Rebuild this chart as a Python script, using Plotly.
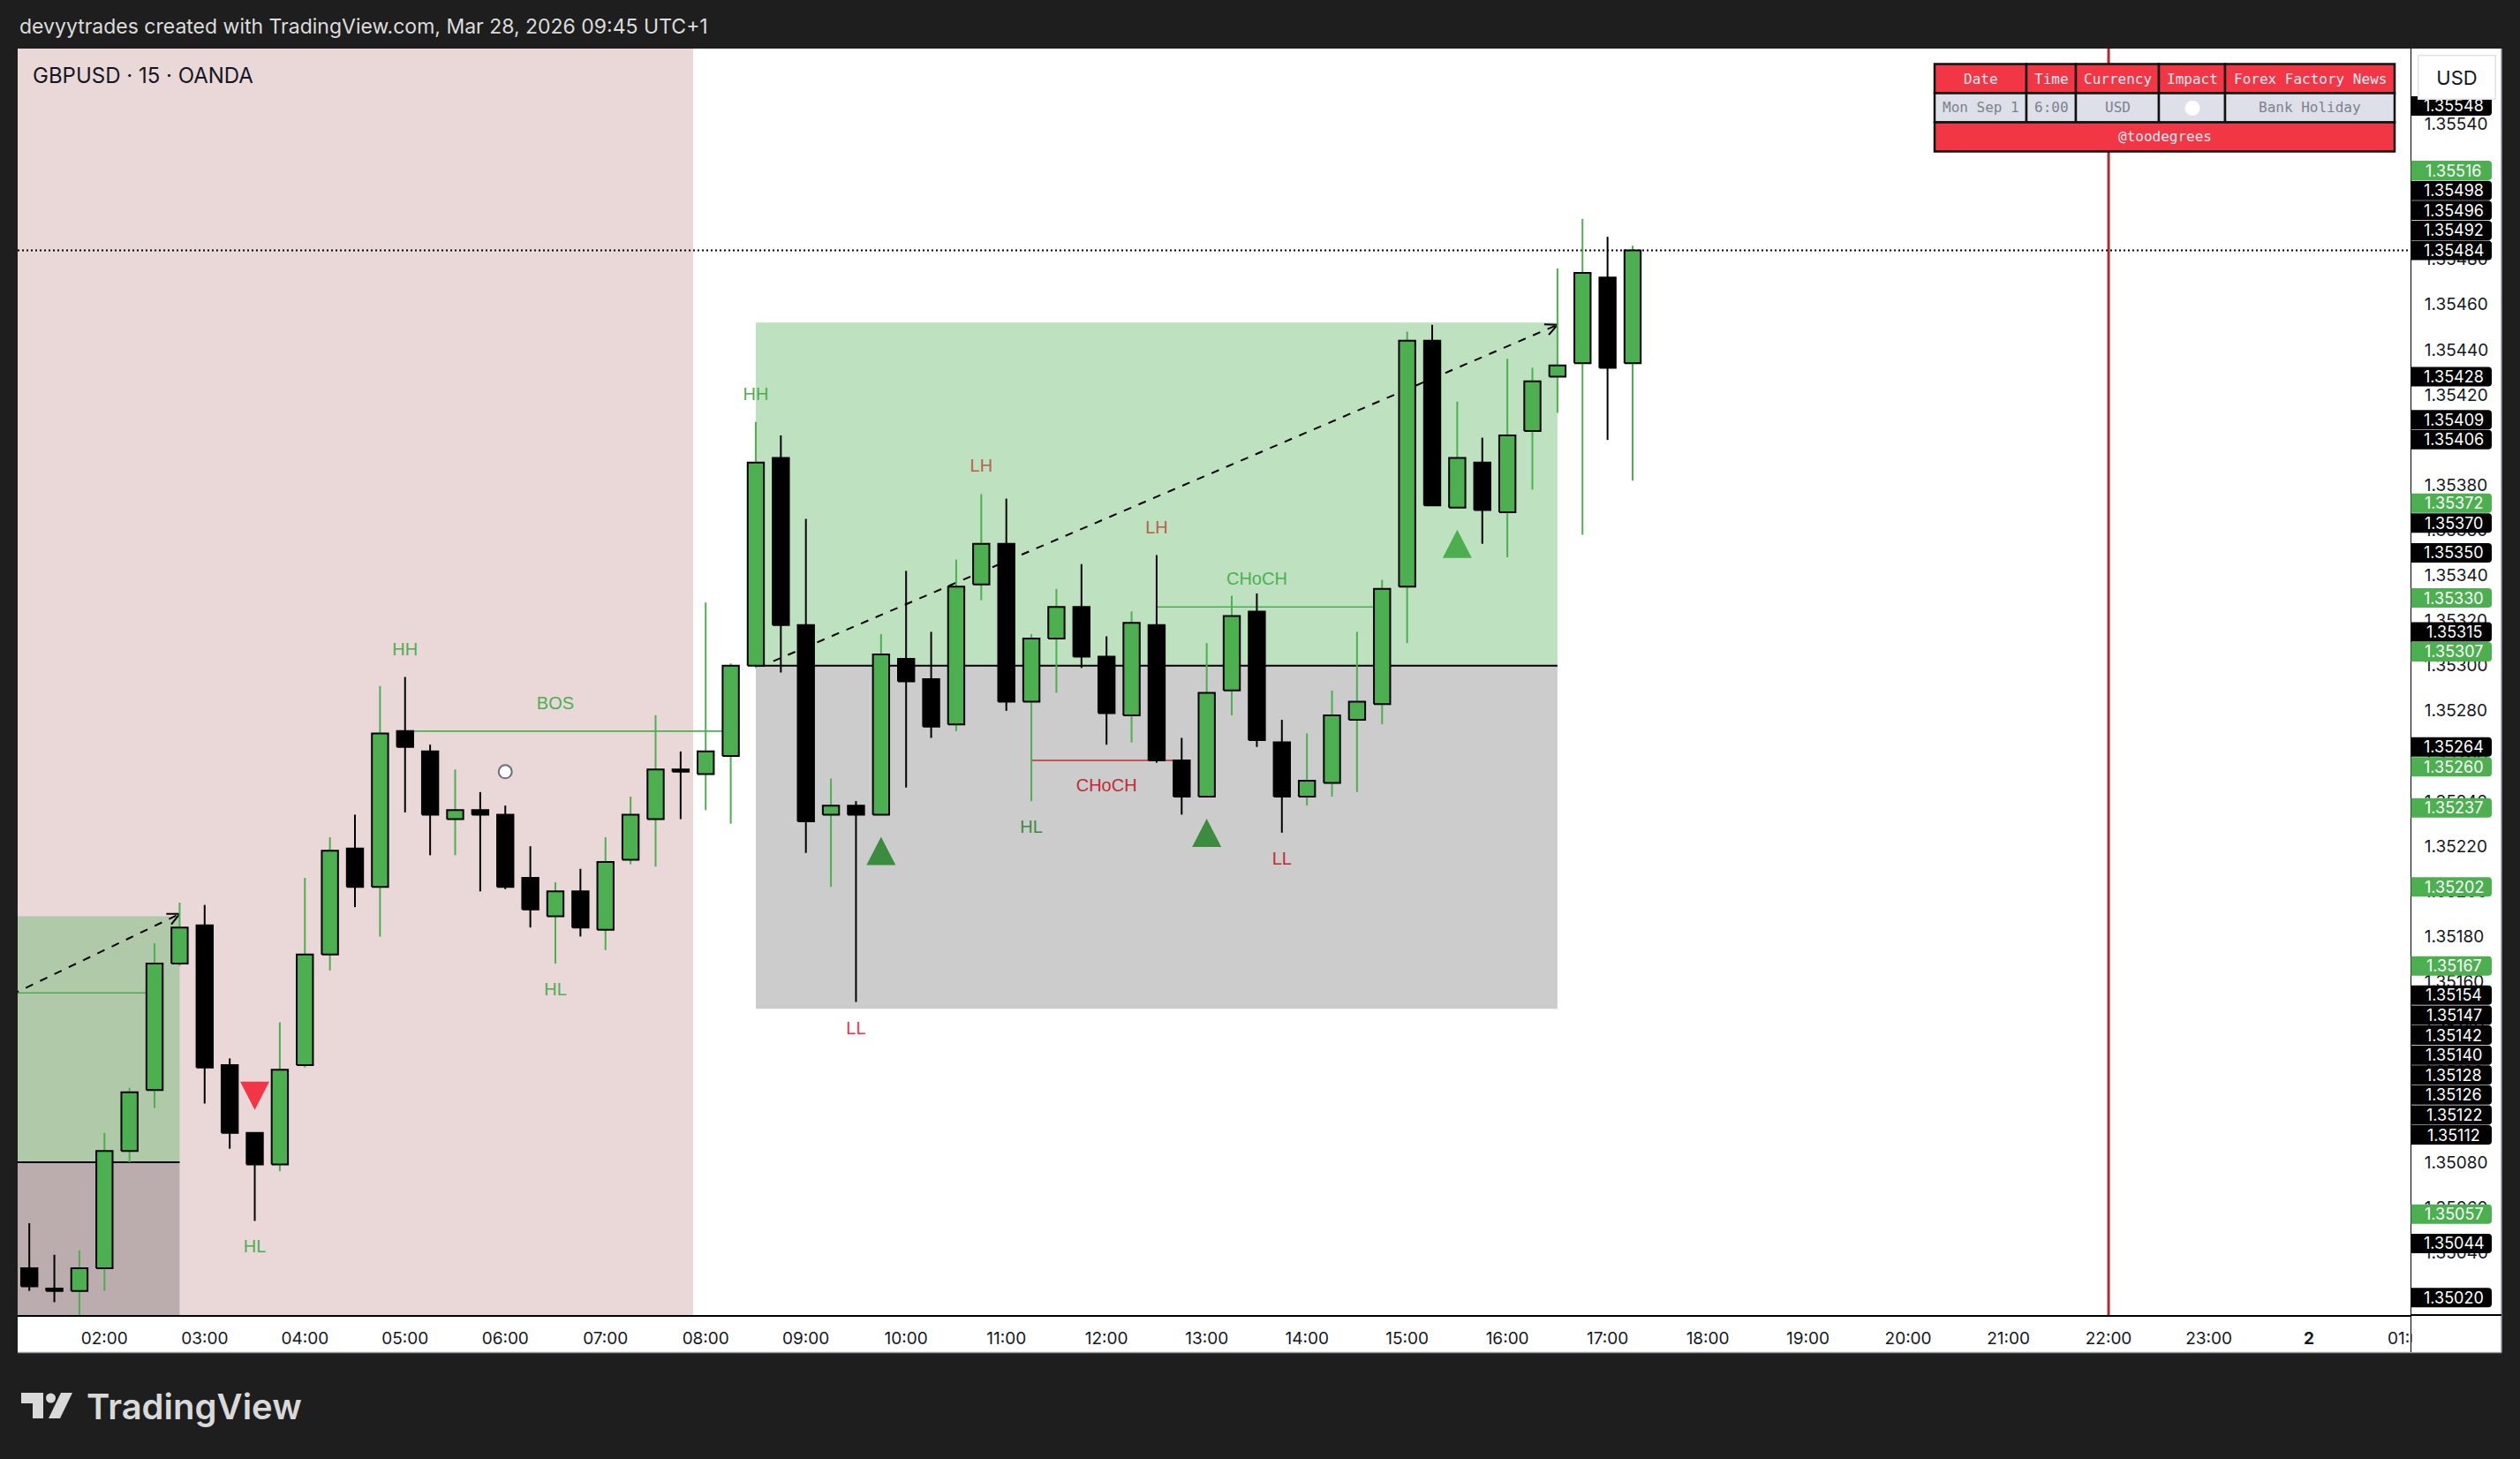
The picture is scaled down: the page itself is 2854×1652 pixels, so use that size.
import math
import pandas as pd
import plotly.graph_objects as go

# ---------------- data ----------------
FIRST_BAR = "2025-09-01 01:15"
BAR_MINUTES = 15

opens = [1.35033, 1.35024, 1.35023, 1.35033, 1.35085, 1.35112, 1.35168, 1.35185, 1.35123, 1.35093,
         1.35079, 1.35123, 1.35172, 1.35219, 1.35202, 1.35271, 1.35262, 1.35232, 1.35236, 1.35234,
         1.35206, 1.35189, 1.35200, 1.35183, 1.35214, 1.35232, 1.35254, 1.35252, 1.35260, 1.35300,
         1.35392, 1.35318, 1.35234, 1.35238, 1.35234, 1.35303, 1.35294, 1.35274, 1.35336, 1.35354,
         1.35284, 1.35312, 1.35326, 1.35304, 1.35278, 1.35318, 1.35258, 1.35242, 1.35289, 1.35324,
         1.35266, 1.35242, 1.35248, 1.35276, 1.35283, 1.35335, 1.35444, 1.35370, 1.35390, 1.35368,
         1.35404, 1.35428, 1.35434, 1.35472, 1.35434]
highs = [1.35053, 1.35039, 1.35041, 1.35093, 1.35113, 1.35177, 1.35195, 1.35194, 1.35126, 1.35093,
         1.35142, 1.35206, 1.35224, 1.35234, 1.35291, 1.35295, 1.35265, 1.35254, 1.35244, 1.35238,
         1.35220, 1.35204, 1.35210, 1.35224, 1.35242, 1.35278, 1.35262, 1.35328, 1.35301, 1.35408,
         1.35402, 1.35365, 1.35250, 1.35240, 1.35314, 1.35342, 1.35315, 1.35347, 1.35376, 1.35374,
         1.35314, 1.35334, 1.35345, 1.35313, 1.35324, 1.35349, 1.35268, 1.35310, 1.35331, 1.35332,
         1.35276, 1.35270, 1.35289, 1.35315, 1.35338, 1.35448, 1.35451, 1.35417, 1.35401, 1.35436,
         1.35432, 1.35476, 1.35498, 1.35490, 1.35486]
lows = [1.35023, 1.35018, 1.35005, 1.35023, 1.35080, 1.35104, 1.35167, 1.35106, 1.35086, 1.35054,
        1.35076, 1.35122, 1.35165, 1.35193, 1.35180, 1.35235, 1.35216, 1.35216, 1.35200, 1.35201,
        1.35184, 1.35168, 1.35180, 1.35174, 1.35212, 1.35211, 1.35232, 1.35236, 1.35230, 1.35299,
        1.35297, 1.35217, 1.35202, 1.35151, 1.35234, 1.35246, 1.35268, 1.35271, 1.35329, 1.35280,
        1.35240, 1.35288, 1.35299, 1.35265, 1.35266, 1.35257, 1.35234, 1.35242, 1.35278, 1.35264,
        1.35226, 1.35238, 1.35242, 1.35244, 1.35274, 1.35310, 1.35371, 1.35370, 1.35354, 1.35348,
        1.35378, 1.35412, 1.35358, 1.35400, 1.35382]
closes = [1.35025, 1.35023, 1.35033, 1.35085, 1.35111, 1.35168, 1.35184, 1.35122, 1.35093, 1.35079,
          1.35121, 1.35172, 1.35218, 1.35202, 1.35270, 1.35264, 1.35234, 1.35236, 1.35234, 1.35202,
          1.35192, 1.35200, 1.35184, 1.35213, 1.35234, 1.35254, 1.35253, 1.35262, 1.35300, 1.35390,
          1.35318, 1.35231, 1.35238, 1.35234, 1.35305, 1.35293, 1.35273, 1.35335, 1.35354, 1.35284,
          1.35312, 1.35326, 1.35304, 1.35279, 1.35319, 1.35258, 1.35242, 1.35288, 1.35322, 1.35267,
          1.35242, 1.35249, 1.35278, 1.35284, 1.35334, 1.35444, 1.35371, 1.35392, 1.35369, 1.35402,
          1.35426, 1.35433, 1.35474, 1.35432, 1.35484]

time_tick_times = ["2025-09-01 02:00", "2025-09-01 03:00", "2025-09-01 04:00", "2025-09-01 05:00",
                   "2025-09-01 06:00", "2025-09-01 07:00", "2025-09-01 08:00", "2025-09-01 09:00",
                   "2025-09-01 10:00", "2025-09-01 11:00", "2025-09-01 12:00", "2025-09-01 13:00",
                   "2025-09-01 14:00", "2025-09-01 15:00", "2025-09-01 16:00", "2025-09-01 17:00",
                   "2025-09-01 18:00", "2025-09-01 19:00", "2025-09-01 20:00", "2025-09-01 21:00",
                   "2025-09-01 22:00", "2025-09-01 23:00", "2025-09-02 00:00", "2025-09-02 01:00"]
time_tick_labels = ["02:00", "03:00", "04:00", "05:00", "06:00", "07:00", "08:00", "09:00", "10:00",
                    "11:00", "12:00", "13:00", "14:00", "15:00", "16:00", "17:00", "18:00", "19:00",
                    "20:00", "21:00", "22:00", "23:00", "<b>2</b>", "01:00"]

price_ticks = [1.35020, 1.35040, 1.35060, 1.35080, 1.35100, 1.35120, 1.35140, 1.35160, 1.35180,
               1.35200, 1.35220, 1.35240, 1.35260, 1.35280, 1.35300, 1.35320, 1.35340, 1.35360,
               1.35380, 1.35400, 1.35420, 1.35440, 1.35460, 1.35480, 1.35500, 1.35520, 1.35540,
               1.35560]

# swing labels (bar numbers are 1-based candle positions)
swing_text = ["HL", "HH", "HL", "HH", "LL", "LH", "HL", "LH", "LL"]
swing_bar = [10, 16, 22, 30, 34, 39, 41, 46, 51]
swing_side = ["low", "high", "low", "high", "low", "high", "low", "high", "low"]

# structure breaks
struct_text = ["BOS", "CHoCH", "CHoCH"]
struct_level = [1.35271, 1.35258, 1.35326]
struct_from = [16, 41, 46]
struct_to = [29, 47, 55]
struct_label_bar = [22, 44, 50]
struct_side = ["above", "below", "above"]
struct_bull = [True, False, True]

# earlier structure line coming from the left edge
left_level = 1.35155
left_from, left_to = -2, 6

# signals
signal_bar = [10, 35, 48, 58]
signal_dir = ["down", "up", "up", "up"]

# marker dot
dot_bar, dot_price = 20, 1.35253

# position tool zones
zone_start = [-4, 30]
zone_end = [7, 62]
zone_target = [1.35189, 1.35452]
zone_entry = [1.35080, 1.35300]
zone_stop = [1.34990, 1.35148]
arrow_from_bar = [-2, 30.7]
arrow_from_price = [1.35142, 1.35302]
arrow_to_bar = [7, 62]
arrow_to_price = [1.35190, 1.35451]

# session background
session_end_bar = 27.5

# vertical marker (news time)
news_time = "2025-09-01 22:00"

# price-scale labels
box_values = [1.35548, 1.35516, 1.35498, 1.35496, 1.35492, 1.35484, 1.35428, 1.35409, 1.35406,
              1.35372, 1.35370, 1.35350, 1.35330, 1.35315, 1.35307, 1.35264, 1.35260, 1.35237,
              1.35202, 1.35167, 1.35154, 1.35147, 1.35142, 1.35140, 1.35128, 1.35126, 1.35122,
              1.35112, 1.35057, 1.35044, 1.35020]
box_kind = ["k", "g", "k", "k", "k", "k", "k", "k", "k",
            "g", "k", "k", "g", "k", "g", "k", "g", "g",
            "g", "g", "k", "k", "k", "k", "k", "k", "k",
            "k", "g", "k", "k"]

# news table
table_header = ["Date", "Time", "Currency", "Impact", "Forex Factory News"]
table_row = ["Mon Sep 1", "6:00", "USD", "", "Bank Holiday"]
table_footer = "@toodegrees"

header_text = "devyytrades created with TradingView.com, Mar 28, 2026 09:45 UTC+1"
symbol_text = "GBPUSD · 15 · OANDA"
currency_text = "USD"

# ---------------- geometry helpers ----------------
W, H = 2854, 1652
PL, PR, PT, PB = 20, 2730, 55, 1489
X0 = pd.Timestamp("2025-09-01 01:08:02")
X1 = pd.Timestamp("2025-09-02 01:00:47")
Y0, Y1 = 1.350123, 1.355734
kX = (PR - PL) / (X1 - X0).total_seconds()
kY = (PB - PT) / (Y1 - Y0)

GREEN = "#4caf50"
RED = "#f23645"
BLACK = "#000000"
TEXT = "#131722"
UI_FONT = "Inter"


def bar_time(b):
    return pd.Timestamp(FIRST_BAR) + pd.Timedelta(minutes=BAR_MINUTES * (b - 1))


def dt(px):
    return pd.Timedelta(seconds=px / kX)


def dp(px):
    return px / kY


def to_px(t, p):
    return PL + (t - X0).total_seconds() * kX, PT + (Y1 - p) * kY


def PX(x):
    return (x - PL) / (PR - PL)


def PY(y):
    return (PB - y) / (PB - PT)


traces = []

# --- structure lines
for lvl, b0, b1, bull in zip(struct_level, struct_from, struct_to, struct_bull):
    traces.append(go.Scatter(x=[bar_time(b0), bar_time(b1)], y=[lvl, lvl], mode="lines",
                             line=dict(color=GREEN if bull else RED, width=1.6), hoverinfo="skip"))
traces.append(go.Scatter(x=[bar_time(left_from), bar_time(left_to)], y=[left_level, left_level],
                         mode="lines", line=dict(color=GREEN, width=1.6), hoverinfo="skip"))

# --- text labels
lx, ly, lt, lc = [], [], [], []
for txt, b, side in zip(swing_text, swing_bar, swing_side):
    i = b - 1
    lx.append(bar_time(b))
    ly.append(highs[i] + dp(30) if side == "high" else lows[i] - dp(31))
    lt.append(txt)
    lc.append(GREEN if txt in ("HH", "HL") else RED)
for txt, lvl, lb, side, bull in zip(struct_text, struct_level, struct_label_bar, struct_side, struct_bull):
    lx.append(bar_time(lb))
    ly.append(lvl + dp(30) if side == "above" else lvl - dp(30))
    lt.append(txt)
    lc.append(GREEN if bull else RED)
traces.append(go.Scatter(x=lx, y=ly, text=lt, mode="text", textposition="middle center",
                         textfont=dict(family="Liberation Sans", size=20, color=lc), hoverinfo="skip"))

# --- signal triangles
tri = {"up": ([], []), "down": ([], [])}
for b, d in zip(signal_bar, signal_dir):
    i = b - 1
    t = bar_time(b)
    xs, ys = tri[d]
    if d == "up":
        tip, base = lows[i] - dp(25), lows[i] - dp(57)
    else:
        tip, base = highs[i] + dp(26), highs[i] + dp(58)
    xs += [t, t + dt(16.5), t - dt(16.5), t, None]
    ys += [tip, base, base, tip, None]
traces.append(go.Scatter(x=tri["up"][0], y=tri["up"][1], mode="lines", fill="toself",
                         fillcolor=GREEN, line=dict(width=0, color=GREEN), hoverinfo="skip"))
traces.append(go.Scatter(x=tri["down"][0], y=tri["down"][1], mode="lines", fill="toself",
                         fillcolor=RED, line=dict(width=0, color=RED), hoverinfo="skip"))

# --- dot marker
traces.append(go.Scatter(x=[bar_time(dot_bar)], y=[dot_price], mode="markers",
                         marker=dict(size=15, color="white", line=dict(color="#6a6d78", width=2)),
                         hoverinfo="skip"))

# --- zones
gx, gy, sx, sy, ex, ey = [], [], [], [], [], []
for s, e, tg, en, st in zip(zone_start, zone_end, zone_target, zone_entry, zone_stop):
    ts, te = bar_time(s), bar_time(e)
    gx += [ts, te, te, ts, ts, None]
    gy += [en, en, tg, tg, en, None]
    sx += [ts, te, te, ts, ts, None]
    sy += [st, st, en, en, st, None]
    ex += [ts, te, None]
    ey += [en, en, None]
traces.append(go.Scatter(x=gx, y=gy, mode="lines", fill="toself", fillcolor="rgba(76,175,80,0.36)",
                         line=dict(width=0, color="rgba(0,0,0,0)"), hoverinfo="skip"))
traces.append(go.Scatter(x=sx, y=sy, mode="lines", fill="toself", fillcolor="rgba(0,0,0,0.2)",
                         line=dict(width=0, color="rgba(0,0,0,0)"), hoverinfo="skip"))
traces.append(go.Scatter(x=ex, y=ey, mode="lines", line=dict(color=BLACK, width=2), hoverinfo="skip"))

# --- dashed arrows
ax_, ay_, hx, hy = [], [], [], []
for b0, p0, b1, p1 in zip(arrow_from_bar, arrow_from_price, arrow_to_bar, arrow_to_price):
    t0, t1 = bar_time(b0), bar_time(b1)
    ax_ += [t0, t1, None]
    ay_ += [p0, p1, None]
    x0p, y0p = to_px(t0, p0)
    x1p, y1p = to_px(t1, p1)
    ang = math.atan2(y0p - y1p, x0p - x1p)
    for da in (0.45, -0.45):
        hxp = 15 * math.cos(ang + da)
        hyp = 15 * math.sin(ang + da)
        hx += [t1, t1 + dt(hxp), None]
        hy += [p1, p1 - dp(hyp), None]
traces.append(go.Scatter(x=ax_, y=ay_, mode="lines", line=dict(color=BLACK, width=2, dash="9px,9px"),
                         hoverinfo="skip"))
traces.append(go.Scatter(x=hx, y=hy, mode="lines", line=dict(color=BLACK, width=2), hoverinfo="skip"))

# --- last price dotted line
traces.append(go.Scatter(x=[X0, X1], y=[closes[-1], closes[-1]], mode="lines",
                         line=dict(color=BLACK, width=2, dash="2px,3px"), hoverinfo="skip"))

# --- candles
wg_x, wg_y, wk_x, wk_y = [], [], [], []
bg_x, bg_y, bk_x, bk_y = [], [], [], []
HALF = 9.2
for n, (o, h, l, c) in enumerate(zip(opens, highs, lows, closes), start=1):
    t = bar_time(n)
    lo, hi = min(o, c), max(o, c)
    up = c > o
    (wg_x if up else wk_x).extend([t, t, None])
    (wg_y if up else wk_y).extend([l, h, None])
    bx = [t - dt(HALF), t + dt(HALF), t + dt(HALF), t - dt(HALF), t - dt(HALF), None]
    by = [lo, lo, hi, hi, lo, None]
    if up:
        bg_x += bx
        bg_y += by
    else:
        bk_x += bx
        bk_y += by
traces.append(go.Scatter(x=wg_x, y=wg_y, mode="lines", line=dict(color=GREEN, width=2), hoverinfo="skip"))
traces.append(go.Scatter(x=wk_x, y=wk_y, mode="lines", line=dict(color=BLACK, width=2), hoverinfo="skip"))
traces.append(go.Scatter(x=bg_x, y=bg_y, mode="lines", fill="toself", fillcolor=GREEN,
                         line=dict(color=BLACK, width=2), hoverinfo="skip"))
traces.append(go.Scatter(x=bk_x, y=bk_y, mode="lines", fill="toself", fillcolor=BLACK,
                         line=dict(color=BLACK, width=2), hoverinfo="skip"))

fig = go.Figure(traces)

shapes = []
annotations = []

# session background and news line
shapes.append(dict(type="rect", xref="x", yref="paper", x0=X0 - pd.Timedelta(hours=1),
                   x1=bar_time(session_end_bar), y0=0, y1=1, fillcolor="#ead8d9",
                   line=dict(width=0), layer="below"))
shapes.append(dict(type="line", xref="x", yref="paper", x0=news_time, x1=news_time, y0=0, y1=1,
                   line=dict(color="#b22a30", width=3), layer="below"))

# axis panels
shapes.append(dict(type="rect", xref="paper", yref="paper", x0=PX(PR), x1=PX(2833), y0=PY(1531), y1=PY(PT),
                   fillcolor="white", line=dict(width=0), layer="below"))
shapes.append(dict(type="rect", xref="paper", yref="paper", x0=PX(PL), x1=PX(2833), y0=PY(1531), y1=PY(PB),
                   fillcolor="white", line=dict(width=0), layer="below"))
shapes.append(dict(type="line", xref="paper", yref="paper", x0=PX(PL), x1=PX(2833), y0=PY(1531.5),
                   y1=PY(1531.5), line=dict(color="#9598a1", width=1.5), layer="above"))
shapes.append(dict(type="line", xref="paper", yref="paper", x0=PX(2833), x1=PX(2833), y0=PY(1531.5),
                   y1=PY(PT), line=dict(color="#9598a1", width=1.5), layer="above"))
shapes.append(dict(type="rect", xref="paper", yref="paper", x0=PX(2731.5), x1=PX(2832), y0=PY(1530.5),
                   y1=PY(1490.5), fillcolor="white", line=dict(width=0), layer="above"))
shapes.append(dict(type="line", xref="paper", yref="paper", x0=PX(PR), x1=PX(2833), y0=PY(PB),
                   y1=PY(PB), line=dict(color=BLACK, width=2), layer="above"))
shapes.append(dict(type="line", xref="paper", yref="paper", x0=PX(PR + 0.5), x1=PX(PR + 0.5), y0=PY(1531),
                   y1=PY(PB), line=dict(color=BLACK, width=1), layer="above"))


def rrect(x0, y0, x1, y1, r):
    return (f"M {PX(x0)},{PY(y0)} L {PX(x1 - r)},{PY(y0)} Q {PX(x1)},{PY(y0)} {PX(x1)},{PY(y0 + r)} "
            f"L {PX(x1)},{PY(y1 - r)} Q {PX(x1)},{PY(y1)} {PX(x1 - r)},{PY(y1)} L {PX(x0)},{PY(y1)} Z")


# price scale boxes (stacked around the last price)
BOX_H = 22.6
true_px = [PT + (Y1 - v) * kY for v in box_values]
pos = list(true_px)
anchor = box_values.index(closes[-1])
for i in range(anchor + 1, len(pos)):
    pos[i] = max(true_px[i], pos[i - 1] + BOX_H)
for i in range(anchor - 1, -1, -1):
    pos[i] = min(true_px[i], pos[i + 1] - BOX_H)
for v, k, yc in zip(box_values, box_kind, pos):
    col = GREEN if k == "g" else BLACK
    shapes.append(dict(type="path", xref="paper", yref="paper",
                       path=rrect(PR + 0.5, yc - 11, 2822, yc + 11, 4),
                       fillcolor=col, line=dict(width=0), layer="above"))
    annotations.append(dict(xref="paper", yref="paper", x=PX(2779), y=PY(yc), text=f"{v:.5f}",
                            showarrow=False, xanchor="center", yanchor="middle",
                            font=dict(family=UI_FONT, size=18, color="white")))

# currency box
annotations.append(dict(xref="paper", yref="paper", x=PX(2782), y=PY(87.5), text=currency_text,
                        showarrow=False, xanchor="center", yanchor="middle", width=84, height=46,
                        bgcolor="white", bordercolor="#e0e3eb", borderwidth=1.5,
                        font=dict(family=UI_FONT, size=22, color=TEXT)))

# news table
col_x = [2191, 2295, 2351, 2445, 2520, 2712]
row_y = [72.5, 105.5, 138.5, 171.5]
for r, (fill, tcol, cells) in enumerate([(RED, "#e9ebf2", table_header), ("#dde0e9", "#7d808c", table_row)]):
    for c in range(5):
        shapes.append(dict(type="rect", xref="paper", yref="paper", x0=PX(col_x[c]), x1=PX(col_x[c + 1]),
                           y0=PY(row_y[r + 1]), y1=PY(row_y[r]), fillcolor=fill,
                           line=dict(color="#111111", width=2.5), layer="above"))
        if cells[c]:
            annotations.append(dict(xref="paper", yref="paper", x=PX((col_x[c] + col_x[c + 1]) / 2),
                                    y=PY((row_y[r] + row_y[r + 1]) / 2), text=cells[c], showarrow=False,
                                    xanchor="center", yanchor="middle",
                                    font=dict(family="DejaVu Sans Mono", size=16, color=tcol)))
shapes.append(dict(type="rect", xref="paper", yref="paper", x0=PX(col_x[0]), x1=PX(col_x[-1]),
                   y0=PY(row_y[3]), y1=PY(row_y[2]), fillcolor=RED,
                   line=dict(color="#111111", width=2.5), layer="above"))
annotations.append(dict(xref="paper", yref="paper", x=PX((col_x[0] + col_x[-1]) / 2),
                        y=PY((row_y[2] + row_y[3]) / 2), text=table_footer, showarrow=False,
                        xanchor="center", yanchor="middle",
                        font=dict(family="DejaVu Sans Mono", size=16, color="#e9ebf2")))
shapes.append(dict(type="circle", xref="paper", yref="paper", x0=PX(2474.5), x1=PX(2491.5),
                   y0=PY(131), y1=PY(114), fillcolor="white", line=dict(width=0), layer="above"))

# header / title
annotations.append(dict(xref="paper", yref="paper", x=PX(20), y=PY(30), text=header_text, showarrow=False,
                        xanchor="left", yanchor="middle", font=dict(family=UI_FONT, size=23, color="#dcdcdc")))
annotations.append(dict(xref="paper", yref="paper", x=PX(35), y=PY(85), text=symbol_text, showarrow=False,
                        xanchor="left", yanchor="middle", font=dict(family=UI_FONT, size=24, color=TEXT)))

# TradingView logo
logo_col = "#d9d9d9"
shapes.append(dict(type="path", xref="paper", yref="paper", layer="above", fillcolor=logo_col,
                   line=dict(width=0),
                   path=(f"M {PX(24)},{PY(1577)} L {PX(49)},{PY(1577)} L {PX(49)},{PY(1606)} "
                         f"L {PX(37)},{PY(1606)} L {PX(37)},{PY(1589)} L {PX(24)},{PY(1589)} Z")))
shapes.append(dict(type="circle", xref="paper", yref="paper", layer="above", fillcolor=logo_col,
                   line=dict(width=0), x0=PX(52), x1=PX(63), y0=PY(1588.5), y1=PY(1577.5)))
shapes.append(dict(type="path", xref="paper", yref="paper", layer="above", fillcolor=logo_col,
                   line=dict(width=0),
                   path=(f"M {PX(55)},{PY(1606)} L {PX(68)},{PY(1606)} L {PX(82)},{PY(1577)} "
                         f"L {PX(69)},{PY(1577)} Z")))
annotations.append(dict(xref="paper", yref="paper", x=PX(96), y=PY(1592), text="TradingView",
                        showarrow=False, xanchor="left", yanchor="middle",
                        font=dict(family=UI_FONT, size=40, color=logo_col, weight=600)))

fig.update_layout(
    width=W, height=H, showlegend=False,
    margin=dict(l=PL, r=W - PR, t=PT, b=H - PB, pad=0),
    paper_bgcolor="#1e1e1e", plot_bgcolor="white",
    shapes=shapes, annotations=annotations,
    xaxis=dict(type="date", range=[X0, X1], showgrid=False, zeroline=False,
               showline=True, linecolor=BLACK, linewidth=2,
               tickmode="array", tickvals=time_tick_times, ticktext=time_tick_labels,
               ticks="", ticklabelstandoff=8,
               tickfont=dict(family=UI_FONT, size=19, color=TEXT), fixedrange=True),
    yaxis=dict(range=[Y0, Y1], side="right", showgrid=False, zeroline=False,
               showline=True, linecolor=BLACK, linewidth=1,
               tickmode="array", tickvals=price_ticks, ticktext=[f"{v:.5f}" for v in price_ticks],
               ticks="", ticklabelstandoff=11,
               tickfont=dict(family=UI_FONT, size=19, color=TEXT), fixedrange=True),
)

fig.write_html("out.html", config={"displayModeBar": False},
               post_script="document.body.style.margin='0';document.body.style.padding='0';"
                           "document.body.style.background='#1e1e1e';"
                           "document.body.style.overflow='hidden';")
